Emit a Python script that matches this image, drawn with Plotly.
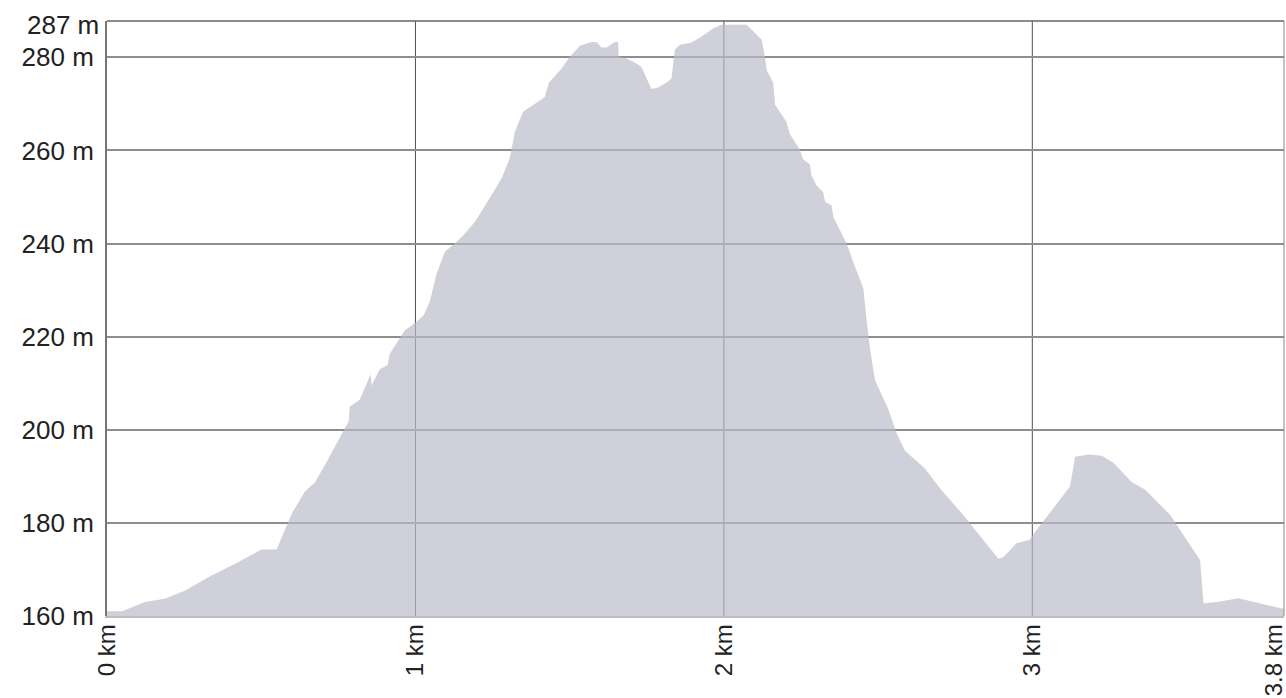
import plotly.graph_objects as go

# Elevation profile (distance in km, elevation in m)
dist_km = [0.000, 0.050, 0.122, 0.187, 0.252, 0.333, 0.420, 0.501, 0.550, 0.600,
           0.641, 0.674, 0.712, 0.764, 0.784, 0.787, 0.819, 0.855, 0.858, 0.884,
           0.910, 0.916, 0.965, 0.998, 1.027, 1.047, 1.069, 1.096, 1.128, 1.160,
           1.193, 1.241, 1.280, 1.306, 1.322, 1.349, 1.419, 1.433, 1.474, 1.501,
           1.533, 1.571, 1.587, 1.603, 1.620, 1.646, 1.657, 1.659, 1.679, 1.711,
           1.733, 1.765, 1.787, 1.814, 1.830, 1.841, 1.857, 1.895, 1.922, 1.965,
           1.992, 2.074, 2.111, 2.122, 2.133, 2.139, 2.160, 2.166, 2.203, 2.214,
           2.246, 2.257, 2.279, 2.284, 2.301, 2.322, 2.328, 2.349, 2.355, 2.398,
           2.419, 2.452, 2.463, 2.474, 2.490, 2.532, 2.561, 2.587, 2.652, 2.701,
           2.776, 2.890, 2.906, 2.949, 2.992, 3.003, 3.122, 3.139, 3.182, 3.225,
           3.263, 3.322, 3.366, 3.447, 3.544, 3.555, 3.609, 3.668, 3.809, 3.816]
elev_m = [161.0, 161.0, 163.0, 163.7, 165.4, 168.5, 171.4, 174.3, 174.3, 182.1,
          186.7, 188.7, 193.1, 199.7, 201.9, 205.0, 206.4, 211.9, 209.5, 213.0,
          213.9, 216.2, 221.3, 222.9, 224.6, 227.6, 233.6, 238.3, 240.0, 242.1,
          244.7, 249.8, 254.1, 258.4, 263.9, 268.3, 271.4, 274.6, 277.6, 280.1,
          282.5, 283.3, 283.3, 282.1, 282.1, 283.3, 283.3, 280.1, 279.9, 278.9,
          277.9, 273.2, 273.5, 274.6, 275.4, 281.6, 282.7, 283.2, 284.2, 286.2,
          287.0, 287.0, 284.5, 283.8, 280.1, 277.2, 274.6, 269.8, 266.1, 263.5,
          260.2, 258.1, 257.0, 254.6, 252.4, 251.0, 248.9, 248.2, 245.7, 240.0,
          236.1, 230.4, 223.4, 217.2, 210.6, 204.6, 199.1, 195.5, 191.7, 187.4,
          181.7, 172.3, 172.6, 175.6, 176.4, 177.5, 187.8, 194.2, 194.7, 194.4,
          192.9, 188.8, 187.1, 181.7, 172.0, 162.7, 163.1, 163.8, 161.6, 161.5]

x_grid_vals = [0, 1, 2, 3]
x_tick_vals = [0, 1, 2, 3, 3.785]
x_tick_text = ["0 km", "1 km", "2 km", "3 km", "3.8 km"]
y_tick_vals = [160, 180, 200, 220, 240, 260, 280]
y_tick_text = ["160 m", "180 m", "200 m", "220 m", "240 m", "260 m", "280 m"]
y_max_label_val = 287
y_max_label_text = "287 m"

X_RANGE = [0, 3.816]
Y_RANGE = [160, 287.8]
FONT = "Liberation Sans, Arial, sans-serif"

fig = go.Figure()
fig.add_trace(go.Scatter(
    x=dist_km, y=elev_m, mode="lines", fill="tozeroy",
    line=dict(width=0, color="rgba(0,0,0,0)"),
    fillcolor="rgba(186,187,200,0.69)", hoverinfo="skip", showlegend=False,
))

fig.update_layout(
    width=1286, height=698,
    margin=dict(l=107, r=2, t=21, b=82),
    paper_bgcolor="white", plot_bgcolor="white",
    font=dict(family=FONT, size=24, color="#222222"),
    showlegend=False,
    xaxis=dict(
        range=X_RANGE, tickmode="array", tickvals=x_tick_vals, ticktext=x_tick_text,
        tickangle=-90, showgrid=False,
        zeroline=False, showline=True, linecolor="#bdbdbd", linewidth=1.5,
        ticks="", ticklabelstandoff=-3, ticklabeloverflow="allow",
        automargin=False, fixedrange=True,
        tickfont=dict(family=FONT, size=24, color="#222222"),
    ),
    yaxis=dict(
        range=Y_RANGE, tickmode="array", tickvals=y_tick_vals, ticktext=y_tick_text,
        showgrid=True, gridcolor="#8e8e8e", gridwidth=1.5,
        zeroline=False, showline=True, linecolor="#777777", linewidth=2,
        ticks="", ticklabelstandoff=6, automargin=False, fixedrange=True,
        tickfont=dict(family=FONT, size=26, color="#222222"),
    ),
)

# vertical grid lines at whole kilometres, beneath the filled area
for gx in x_grid_vals[1:]:
    fig.add_shape(type="line", xref="x", yref="paper", x0=gx, x1=gx, y0=0, y1=1,
                  line=dict(color="#505050", width=1), layer="below")

# top frame and right edge
fig.add_shape(type="line", xref="paper", yref="paper", x0=0, x1=1, y0=1, y1=1,
              line=dict(color="#666666", width=1.5), layer="above")
fig.add_shape(type="line", xref="paper", yref="paper", x0=1, x1=1, y0=0, y1=1,
              line=dict(color="#888888", width=1), layer="above")

# label for the maximum elevation at the top of the axis
fig.add_annotation(x=0, xref="paper", y=y_max_label_val, yref="y",
                   text=y_max_label_text, showarrow=False, xanchor="right",
                   xshift=-6, font=dict(family=FONT, size=26, color="#222222"))

fig.write_html("out.html", post_script="document.body.style.margin='0';",
               config={"displayModeBar": False})
